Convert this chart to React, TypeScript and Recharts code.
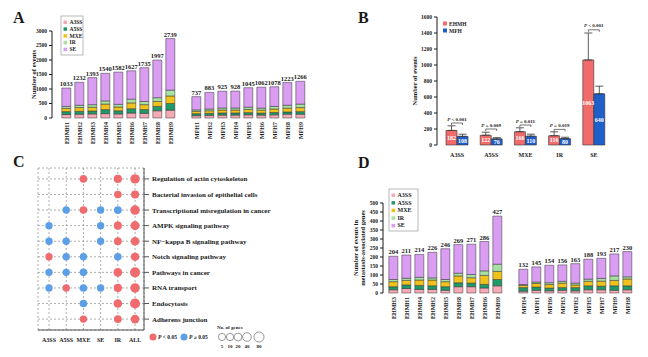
import React from 'react';
import {
  BarChart,
  Bar,
  XAxis,
  YAxis,
  LabelList,
  ErrorBar,
  ScatterChart,
  Scatter,
  ZAxis,
  CartesianGrid
} from 'recharts';

const SERIF = '"Liberation Serif", "Times New Roman", serif';
const INK = '#1a1a1a';

// splice event types (stack order, bottom to top)
const spliceTypes = ['A3SS', 'A5SS', 'MXE', 'IR', 'SE'];
const spliceColors = ['#f6aab5', '#1f9a6a', '#f1c21b', '#a8e2a2', '#d99df1'];

// ---- panel A: events per sample
const aSamples = ['EHMH1', 'EHMH2', 'EHMH3', 'EHMH4', 'EHMH5', 'EHMH6', 'EHMH7', 'EHMH8', 'EHMH9',
  'MFH1', 'MFH2', 'MFH3', 'MFH4', 'MFH5', 'MFH6', 'MFH7', 'MFH8', 'MFH9'];
const aA3SS = [120, 130, 140, 150, 140, 170, 160, 250, 270, 80, 90, 100, 100, 110, 100, 110, 130, 130];
const aA5SS = [100, 100, 100, 140, 110, 150, 130, 150, 230, 70, 70, 75, 75, 75, 70, 80, 80, 90];
const aMXE = [110, 130, 130, 190, 130, 200, 170, 170, 260, 80, 90, 100, 100, 110, 100, 120, 130, 140];
const aIR = [70, 80, 90, 110, 90, 130, 110, 130, 200, 50, 60, 70, 70, 80, 70, 90, 100, 120];
const aSE = [633, 792, 933, 950, 1112, 977, 1165, 1297, 1779, 457, 573, 580, 583, 670, 722, 678, 783, 786];
const aTotals = [1033, 1232, 1393, 1540, 1582, 1627, 1735, 1997, 2739, 737, 883, 925, 928, 1045, 1062, 1078, 1223, 1266];

// ---- panel B: mean events per group
const bTypes = ['A3SS', 'A5SS', 'MXE', 'IR', 'SE'];
const bEhmh = [182, 122, 166, 116, 1063];
const bMfh = [108, 76, 110, 80, 640];
const bEhmhErr = [58, 38, 49, 49, 337];
const bMfhErr = [27, 16, 25, 17, 95];
const bPText = ['< 0.001', '= 0.009', '= 0.011', '= 0.019', '< 0.001'];
const bPLevel = [275, 200, 250, 195, 1440];

// ---- panel C: KEGG enrichment
const cTypes = ['A3SS', 'A5SS', 'MXE', 'SE', 'IR', 'ALL'];
const cPathways = [
  'Regulation of actin cytoskeleton',
  'Bacterial invasion of epithelial cells',
  'Transcriptional misregulation in cancer',
  'AMPK signaling pathway',
  'NF\u2212kappa B signaling pathway',
  'Notch signaling pathway',
  'Pathways in cancer',
  'RNA transport',
  'Endocytosis',
  'Adherens junction'
];
const cGenes = [
  [0, 0, 15, 0, 30, 60],
  [0, 0, 0, 0, 15, 25],
  [0, 10, 15, 10, 20, 60],
  [10, 0, 0, 10, 25, 50],
  [10, 10, 0, 10, 20, 40],
  [10, 10, 10, 0, 15, 30],
  [10, 10, 15, 0, 40, 80],
  [10, 10, 15, 10, 30, 60],
  [0, 0, 15, 0, 40, 80],
  [0, 0, 10, 0, 20, 40]
];
const cPvalues: (number | null)[][] = [
  [null, null, 0.01, null, 0.01, 0.001],
  [null, null, null, null, 0.01, 0.001],
  [null, 0.2, 0.01, 0.2, 0.2, 0.001],
  [0.2, null, null, 0.2, 0.01, 0.001],
  [0.2, 0.2, null, 0.2, 0.01, 0.001],
  [0.01, 0.2, 0.2, null, 0.2, 0.001],
  [0.2, 0.2, 0.2, null, 0.01, 0.001],
  [0.2, 0.01, 0.2, 0.2, 0.01, 0.001],
  [null, null, 0.2, null, 0.01, 0.001],
  [null, null, 0.01, null, 0.01, 0.001]
];
const cSizeKey = [5, 10, 20, 40, 80];

// ---- panel D: events in metastasis-associated genes
const dSamples = ['EHMH3', 'EHMH1', 'EHMH4', 'EHMH2', 'EHMH5', 'EHMH8', 'EHMH7', 'EHMH6', 'EHMH9',
  'MFH4', 'MFH1', 'MFH6', 'MFH3', 'MFH2', 'MFH5', 'MFH7', 'MFH9', 'MFH8'];
const dA3SS = [18, 25, 20, 20, 15, 35, 35, 28, 40, 10, 15, 12, 15, 12, 18, 18, 15, 18];
const dA5SS = [17, 20, 22, 20, 20, 22, 20, 20, 35, 20, 18, 15, 15, 18, 22, 20, 25, 22];
const dMXE = [28, 25, 30, 32, 28, 38, 30, 50, 45, 12, 20, 20, 25, 15, 25, 28, 30, 38];
const dIR = [12, 12, 15, 12, 12, 15, 18, 25, 40, 5, 8, 10, 10, 10, 12, 15, 25, 12];
const dSE = [129, 129, 127, 142, 171, 159, 168, 163, 267, 85, 84, 97, 91, 108, 111, 112, 122, 140];
const dTotals = [204, 211, 214, 226, 246, 269, 271, 286, 427, 132, 145, 154, 156, 163, 188, 193, 217, 230];

const stackRows = (names: string[], series: number[][], totals: number[]) => {
  const rows: any[] = names.map((name, i) => {
    const row: any = { name, total: totals[i] };
    spliceTypes.forEach((t, k) => { row[t] = series[k][i]; });
    return row;
  });
  // empty slot between the EHMH and MFH groups
  rows.splice(9, 0, { name: ' ' });
  return rows;
};

const aRows = stackRows(aSamples, [aA3SS, aA5SS, aMXE, aIR, aSE], aTotals);
const dRows = stackRows(dSamples, [dA3SS, dA5SS, dMXE, dIR, dSE], dTotals);

const bRows = bTypes.map((type, i) => ({
  type,
  EHMH: bEhmh[i],
  MFH: bMfh[i],
  ehmhErr: [0, bEhmhErr[i]],
  mfhErr: [0, bMfhErr[i]],
  pLevel: bPLevel[i]
}));

const cPoints = (significant: boolean) =>
  cPvalues.flatMap((row, r) =>
    row
      .map((p, c) => ({ x: c, y: r, z: cGenes[r][c], p }))
      .filter(d => d.p !== null && ((d.p as number) < 0.05) === significant)
  );

const tickFont = (size: number) => ({ fontSize: size, fontWeight: 'bold' as const, fontFamily: SERIF, fill: INK });

const VTick = (props: any) => {
  const { x, y, payload } = props;
  if (!String(payload.value).trim()) return null;
  return (
    <text x={x} y={y} transform={`rotate(-90 ${x} ${y})`} textAnchor="end" dy="0.35em" {...tickFont(6)}>
      {payload.value}
    </text>
  );
};

// pathway names, kept on one line
const PathwayTick = (props: any) => {
  const { x, y, payload } = props;
  return (
    <text x={x} y={y} dy="0.35em" textAnchor="start" {...tickFont(7)}>
      {cPathways[payload.value]}
    </text>
  );
};

// rotated axis title, lines stacked left to right
const yTitle = (lines: string[], dx: number, size: number) => (props: any) => {
  const vb = props.viewBox;
  const cx = vb.x + dx;
  const cy = vb.y + vb.height / 2;
  return (
    <text x={cx} y={cy} transform={`rotate(-90 ${cx} ${cy})`} textAnchor="middle" {...tickFont(size)}>
      {lines.map((l, i) => (
        <tspan key={i} x={cx} dy={i ? size * 1.15 : 0}>{l}</tspan>
      ))}
    </text>
  );
};

const StackedPanel = ({ data, left, top, width, height, margin, yMax, yTicks, yWidth, padLeft, title, titleDx, titleSize }: any) => (
  <div style={{ position: 'absolute', left, top }}>
    <BarChart width={width} height={height} data={data} margin={margin} barCategoryGap="14%">
      <XAxis
        dataKey="name"
        axisLine={false}
        tickLine={false}
        tickSize={0}
        tickMargin={4}
        interval={0}
        height={margin.xh}
        padding={{ left: padLeft, right: 0 }}
        tick={<VTick />}
      />
      <YAxis
        domain={[0, yMax]}
        ticks={yTicks}
        width={yWidth}
        interval={0}
        tickSize={3}
        tickMargin={2}
        stroke={INK}
        tick={tickFont(5.5)}
        label={{ content: yTitle(title, titleDx, titleSize) }}
      />
      {spliceTypes.map((t, i) => (
        <Bar key={t} dataKey={t} stackId="s" fill={spliceColors[i]} stroke="#333" strokeWidth={0.5} isAnimationActive={false}>
          {t === 'SE' && (
            <LabelList dataKey="total" position="top" offset={2} fill={INK} fontSize={6.5} fontWeight="bold" fontFamily={SERIF} />
          )}
        </Bar>
      ))}
    </BarChart>
  </div>
);

const PBracket = (props: any) => {
  const { viewBox, value, index } = props;
  if (!viewBox) return null;
  const { x, y, width, height } = viewBox;
  const k = height / bEhmh[index];
  const ly = y + height - value * k;
  const x1 = x + width / 2;
  const x2 = x + width * 1.5;
  return (
    <g>
      <path d={`M${x1},${ly + 2}V${ly}H${x2}V${ly + 2}`} fill="none" stroke={INK} strokeWidth={0.6} />
      <text x={(x1 + x2) / 2} y={ly - 2.5} textAnchor="middle" {...tickFont(5)}>
        <tspan fontStyle="italic">P</tspan> {bPText[index]}
      </text>
    </g>
  );
};

const valueLabel = { position: 'center' as const, fill: '#fff', fontSize: 6, fontWeight: 'bold', fontFamily: SERIF };

const LegendBox = ({ x, y, w, h, step, size }: any) => (
  <g>
    <rect x={x} y={y} width={w} height={h} fill="#fff" stroke="#9a9a9a" strokeWidth={0.7} />
    {spliceTypes.map((t, i) => (
      <g key={t}>
        <rect x={x + 2.5} y={y + 4.5 + i * step} width={3.5} height={3.5} fill={spliceColors[i]} />
        <text x={x + 8.5} y={y + 8 + i * step} {...tickFont(size)}>{t}</text>
      </g>
    ))}
  </g>
);

const Z_RANGE = [40, 80];
const sizeRadius = (n: number) => Math.sqrt((Z_RANGE[0] + ((n - 5) / 75) * (Z_RANGE[1] - Z_RANGE[0])) / Math.PI);

export default function App() {
  return (
    <div style={{ position: 'absolute', left: 0, top: 0, width: 648, height: 357, background: '#fff', overflow: 'hidden' }}>
      {/* A */}
      <StackedPanel
        data={aRows}
        left={0}
        top={0}
        width={320}
        height={150}
        margin={{ top: 31, right: 13, bottom: 2, left: 0, xh: 30 }}
        yMax={3000}
        yTicks={[0, 500, 1000, 1500, 2000, 2500, 3000]}
        yWidth={52}
        padLeft={8}
        title={['Number of events']}
        titleDx={36}
        titleSize={6.5}
      />

      {/* B */}
      <div style={{ position: 'absolute', left: 380, top: 0 }}>
        <BarChart width={250} height={165} data={bRows} margin={{ top: 17, right: 19, bottom: 8, left: 0 }} barGap={0} barCategoryGap={6}>
          <XAxis
            dataKey="type"
            axisLine={false}
            tickLine={false}
            tickSize={0}
            tickMargin={8}
            interval={0}
            height={12}
            padding={{ left: 3, right: 0 }}
            tick={tickFont(6)}
          />
          <YAxis
            domain={[0, 1600]}
            ticks={[0, 200, 400, 600, 800, 1000, 1200, 1400, 1600]}
            width={57}
            interval={0}
            tickSize={3}
            tickMargin={2}
            stroke={INK}
            tick={tickFont(5.5)}
            label={{ content: yTitle(['Number of events'], 37, 6.5) }}
          />
          <Bar dataKey="EHMH" fill="#f26b6b" stroke="#333" strokeWidth={0.6} isAnimationActive={false}>
            <ErrorBar dataKey="ehmhErr" width={4} stroke="#333" strokeWidth={0.8} direction="y" />
            <LabelList dataKey="EHMH" {...valueLabel} />
            <LabelList dataKey="pLevel" content={<PBracket />} />
          </Bar>
          <Bar dataKey="MFH" fill="#1e5fc9" stroke="#333" strokeWidth={0.6} isAnimationActive={false}>
            <ErrorBar dataKey="mfhErr" width={4} stroke="#333" strokeWidth={0.8} direction="y" />
            <LabelList dataKey="MFH" {...valueLabel} />
          </Bar>
        </BarChart>
      </div>

      {/* C */}
      <div style={{ position: 'absolute', left: 0, top: 150 }}>
        <ScatterChart width={290} height={200} margin={{ top: 18, right: 0, bottom: 6, left: 38 }}>
          <CartesianGrid strokeDasharray="2 2" stroke="#8a8a8a" strokeWidth={0.7} />
          <XAxis
            type="number"
            dataKey="x"
            domain={[-0.64, 5.52]}
            ticks={[0, 1, 2, 3, 4, 5]}
            interval={0}
            allowDataOverflow
            tickFormatter={(v: number) => cTypes[v]}
            tickLine={false}
            tickSize={0}
            tickMargin={8}
            height={14}
            stroke="#555"
            tick={tickFont(6)}
          />
          <XAxis xAxisId="t" orientation="top" type="number" domain={[-0.64, 5.52]} allowDataOverflow height={0} tick={false} tickLine={false} stroke="#555" />
          <YAxis
            orientation="right"
            type="number"
            dataKey="y"
            reversed
            domain={[-0.7, 9.7]}
            ticks={[0, 1, 2, 3, 4, 5, 6, 7, 8, 9]}
            interval={0}
            allowDataOverflow
            width={146}
            tickSize={5}
            tickMargin={3}
            stroke="#555"
            tick={<PathwayTick />}
          />
          <YAxis yAxisId="l" orientation="left" type="number" reversed domain={[-0.7, 9.7]} allowDataOverflow width={0} tick={false} tickLine={false} stroke="#555" />
          <ZAxis type="number" dataKey="z" domain={[5, 80]} range={Z_RANGE} />
          <Scatter data={cPoints(true)} fill="#f06b6e" isAnimationActive={false} />
          <Scatter data={cPoints(false)} fill="#5b9fe6" isAnimationActive={false} />
        </ScatterChart>
      </div>

      {/* D */}
      <StackedPanel
        data={dRows}
        left={330}
        top={160}
        width={318}
        height={180}
        margin={{ top: 43, right: 14, bottom: 13, left: 0, xh: 34 }}
        yMax={500}
        yTicks={[0, 50, 100, 150, 200, 250, 300, 350, 400, 450, 500]}
        yWidth={53}
        padLeft={4}
        title={['Number of events in', 'metastasis-associated genes']}
        titleDx={28}
        titleSize={6.5}
      />

      {/* panel letters and legends */}
      <svg width={648} height={357} style={{ position: 'absolute', left: 0, top: 0, pointerEvents: 'none' }}>
        <g fontFamily={SERIF} fontWeight="bold" fontSize={16} fill={INK}>
          <text x={13} y={23}>A</text>
          <text x={358} y={23}>B</text>
          <text x={13} y={167}>C</text>
          <text x={358} y={168}>D</text>
        </g>

        <LegendBox x={61} y={16} w={22} h={39} step={6.8} size={5.5} />
        <LegendBox x={389} y={189} w={29} h={42} step={7.6} size={6} />

        <rect x={443} y={21.5} width={4} height={4} fill="#f26b6b" />
        <text x={449} y={25.5} {...tickFont(5.5)}>EHMH</text>
        <rect x={443} y={28.5} width={4} height={4} fill="#1e5fc9" />
        <text x={449} y={32.5} {...tickFont(5.5)}>MFH</text>

        <circle cx={153} cy={337} r={3.5} fill="#f06b6e" />
        <text x={158} y={339} {...tickFont(5.5)}><tspan fontStyle="italic">P</tspan> {'< 0.05'}</text>
        <circle cx={184} cy={337} r={3.5} fill="#5b9fe6" />
        <text x={189} y={339} {...tickFont(5.5)}><tspan fontStyle="italic">P</tspan> {'\u2265 0.05'}</text>

        <text x={217} y={329} {...tickFont(5)}>No. of genes</text>
        {cSizeKey.map((n, i) => {
          const cx = [222, 230, 238, 247, 259][i];
          return (
            <g key={n}>
              <circle cx={cx} cy={337} r={sizeRadius(n)} fill="none" stroke="#555" strokeWidth={0.6} />
              <text x={cx} y={348} textAnchor="middle" {...tickFont(5)}>{n}</text>
            </g>
          );
        })}
      </svg>
    </div>
  );
}
